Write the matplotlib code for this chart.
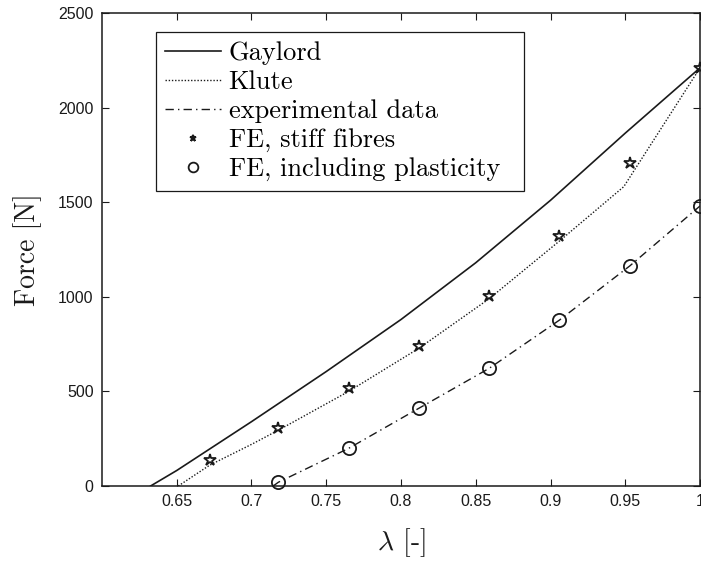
import matplotlib
matplotlib.use("Agg")
import matplotlib.pyplot as plt

# Stretch ratio and force [N]
GAYLORD_X = [0.6325, 0.65, 0.70, 0.75, 0.80, 0.85, 0.90, 0.95, 1.00]
GAYLORD_Y = [0, 82, 340, 605, 880, 1180, 1510, 1865, 2210]

KLUTE_X = [0.651, 0.672, 0.700, 0.718, 0.765, 0.812, 0.859, 0.906, 0.949, 1.000]
KLUTE_Y = [0, 110, 220, 295, 500, 728, 990, 1295, 1582, 2210]

EXP_X = [0.7145, 0.718, 0.765, 0.812, 0.859, 0.906, 0.953, 1.000]
EXP_Y = [0, 20, 199, 411, 622, 877, 1163, 1480]

STIFF_X = [0.672, 0.718, 0.765, 0.812, 0.859, 0.906, 0.953, 1.000]
STIFF_Y = [135, 305, 516, 740, 1006, 1321, 1706, 2208]

PLAST_X = [0.718, 0.765, 0.812, 0.859, 0.906, 0.953, 1.000]
PLAST_Y = [20, 199, 411, 622, 877, 1163, 1480]

LABELS = ("Gaylord", "Klute", "experimental data", "FE, stiff fibres", "FE, including plasticity")
XTICKS = (0.65, 0.7, 0.75, 0.8, 0.85, 0.9, 0.95, 1.0)
XTICKLABELS = ("0.65", "0.7", "0.75", "0.8", "0.85", "0.9", "0.95", "1")
YTICKS = (0, 500, 1000, 1500, 2000, 2500)

plt.rcParams["mathtext.fontset"] = "cm"
SERIF = "cmr10"
INK = "#1a1a1a"

# Configure plot
figure = plt.figure(figsize=(7.01, 5.62), dpi=100)
axes = figure.add_axes([102 / 701, 76 / 562, 598 / 701, 473 / 562])
axes.set_xlim(0.6, 1.0)
axes.set_ylim(0, 2500)
axes.set_xticks(XTICKS)
axes.set_xticklabels(XTICKLABELS)
axes.set_yticks(YTICKS)
axes.tick_params(direction="in", top=True, right=True, length=5, width=0.8,
                 labelsize=11.5, pad=6, colors=INK)
for label in axes.get_xticklabels() + axes.get_yticklabels():
    label.set_fontfamily("Liberation Sans")
for spine in axes.spines.values():
    spine.set_linewidth(1.1)
    spine.set_color(INK)

# Curves and FE results
axes.plot(GAYLORD_X, GAYLORD_Y, color=INK, linestyle="-", linewidth=1.2, label=LABELS[0])
axes.plot(KLUTE_X, KLUTE_Y, color=INK, linestyle=(0, (1, 1.3)), linewidth=1.0, label=LABELS[1])
axes.plot(EXP_X, EXP_Y, color=INK, linestyle=(0, (6, 3, 1, 3)), linewidth=1.0, label=LABELS[2])
axes.plot(STIFF_X, STIFF_Y, color=INK, linestyle="None", marker="*", markersize=9,
          markerfacecolor="none", markeredgewidth=1.3, label=LABELS[3], clip_on=False)
axes.plot(PLAST_X, PLAST_Y, color=INK, linestyle="None", marker="o", markersize=9.5,
          markerfacecolor="none", markeredgewidth=1.3, label=LABELS[4], clip_on=False)

axes.set_xlabel(r"$\lambda$ [-]", fontfamily=SERIF, fontsize=20, labelpad=12, color=INK)
axes.set_ylabel("Force [N]", fontfamily=SERIF, fontsize=20, labelpad=12, color=INK)

# Legend box spans x 157..524 px in the reference
legend = axes.legend(loc="upper left", bbox_to_anchor=(0.0905, 0.6216, 0.6147, 0.3384),
                     mode="expand", borderaxespad=0,
                     prop={"family": SERIF, "size": 19}, fancybox=False, framealpha=1,
                     edgecolor=INK, handlelength=2.1, handletextpad=0.3,
                     labelspacing=0.2, borderpad=0.35)
legend.get_frame().set_linewidth(0.9)
sizes = (None, None, None, 5, 7)
for handle, size in zip(legend.legend_handles, sizes):
    if size is not None:
        handle.set_markersize(size)

figure.savefig("out.png", dpi=100)
